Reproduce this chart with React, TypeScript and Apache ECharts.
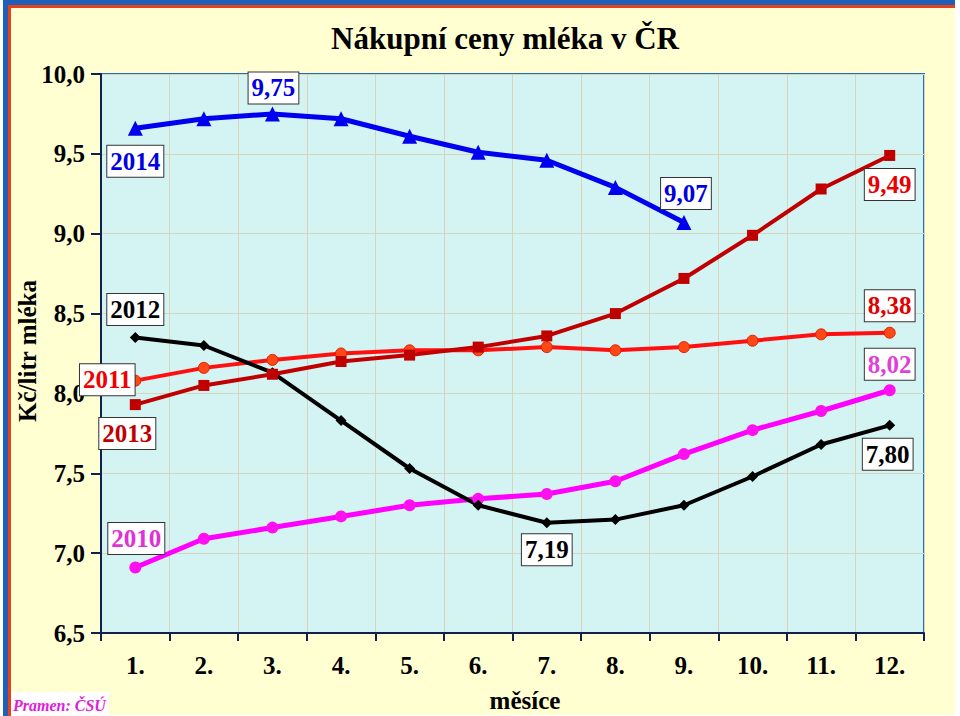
import React, { useEffect, useRef } from "react";
import * as echarts from "echarts";

const months = ["1.", "2.", "3.", "4.", "5.", "6.", "7.", "8.", "9.", "10.", "11.", "12."];
const yTicks = [6.5, 10];
const y2010 = [6.91, 7.09, 7.16, 7.23, 7.30, 7.34, 7.37, 7.45, 7.62, 7.77, 7.89, 8.02];
const y2011 = [8.08, 8.16, 8.21, 8.25, 8.27, 8.27, 8.29, 8.27, 8.29, 8.33, 8.37, 8.38];
const y2012 = [8.35, 8.30, 8.13, 7.83, 7.53, 7.30, 7.19, 7.21, 7.30, 7.48, 7.68, 7.80];
const y2013 = [7.93, 8.05, 8.12, 8.20, 8.24, 8.29, 8.36, 8.50, 8.72, 8.99, 9.28, 9.49];
const y2014 = [9.66, 9.72, 9.75, 9.72, 9.61, 9.51, 9.46, 9.29, 9.07];

const FONT = "'Liberation Serif', 'Times New Roman', serif";

function fmt(v: number) {
  return v.toFixed(2).replace(".", ",");
}

function boxLabel(text: string, color: string, offset: [number, number]) {
  return {
    show: true,
    position: "inside",
    offset,
    formatter: text,
    color,
    fontFamily: FONT,
    fontWeight: "bold",
    fontSize: 25,
    backgroundColor: "#ffffff",
    borderColor: "#333333",
    borderWidth: 1,
    padding: [4, 3, 2, 3],
    align: "center",
    verticalAlign: "middle",
  };
}

function withLabels(values: number[], labels: Record<number, any>) {
  return values.map((v, i) => (labels[i] ? { value: v, label: labels[i] } : v));
}

export default function App() {
  const ref = useRef<HTMLDivElement>(null);
  useEffect(() => {
    document.body.style.margin = "0";
    const chart = echarts.init(ref.current!, null, { renderer: "svg" });
    chart.setOption({
      animation: false,
      backgroundColor: "#ffffff",
      graphic: [
        { type: "rect", z: -10, shape: { x: 11, y: 8, width: 944, height: 707 }, style: { fill: "#FFFFD2" } },
        { type: "rect", z: -9, shape: { x: 3, y: 0, width: 5, height: 716 }, style: { fill: "#1F5FB8" } },
        { type: "rect", z: -9, shape: { x: 8, y: 5, width: 3, height: 711 }, style: { fill: "#E8401C" } },
        { type: "rect", z: -9, shape: { x: 3, y: 0, width: 952, height: 5 }, style: { fill: "#1F5FB8" } },
        { type: "rect", z: -9, shape: { x: 8, y: 5, width: 947, height: 3 }, style: { fill: "#E8401C" } },
        {
          type: "text", x: 505, y: 38,
          style: { text: "Nákupní ceny mléka v ČR", fill: "#000", font: `bold 31px ${FONT}`, align: "center", verticalAlign: "middle" },
        },
        {
          type: "text", x: 27, y: 351, rotation: Math.PI / 2,
          style: { text: "Kč/litr mléka", fill: "#000", font: `bold 25px ${FONT}`, align: "center", verticalAlign: "middle" },
        },
        {
          type: "text", x: 525, y: 700,
          style: { text: "měsíce", fill: "#000", font: `bold 25px ${FONT}`, align: "center", verticalAlign: "middle" },
        },
        { type: "rect", shape: { x: 11, y: 692, width: 98, height: 24 }, style: { fill: "#ffffff" } },
        {
          type: "text", x: 13, y: 705,
          style: { text: "Pramen: ČSÚ", fill: "#E020D8", font: `italic bold 16px ${FONT}`, align: "left", verticalAlign: "middle" },
        },
      ],
      grid: {
        left: 101, top: 74, right: 36, bottom: 83,
        show: true, backgroundColor: "#D4F4F4", borderColor: "#1F6FC8", borderWidth: 2,
      },
      xAxis: {
        type: "category",
        data: months,
        boundaryGap: true,
        axisLine: { lineStyle: { color: "#102050", width: 2 } },
        axisTick: { show: true, length: 8, lineStyle: { color: "#102050", width: 2 } },
        axisLabel: { color: "#000", fontFamily: FONT, fontWeight: "bold", fontSize: 25, margin: 20 },
        splitLine: { show: true, lineStyle: { color: "#D8D4BC", width: 1 } },
      },
      yAxis: {
        type: "value",
        min: yTicks[0],
        max: yTicks[1],
        interval: 0.5,
        axisLine: { show: true, lineStyle: { color: "#102050", width: 2 } },
        axisTick: { show: true, length: 10, lineStyle: { color: "#102050", width: 2 } },
        axisLabel: {
          color: "#000", fontFamily: FONT, fontWeight: "bold", fontSize: 25, margin: 16,
          formatter: (v: number) => v.toFixed(1).replace(".", ","),
        },
        splitLine: { show: true, lineStyle: { color: "#D8D4BC", width: 1 } },
      },
      series: [
        {
          name: "2010", type: "line", data: withLabels(y2010, {
            0: boxLabel("2010", "#E030D8", [1, -29]),
            11: boxLabel(fmt(y2010[11]), "#E040D8", [0, -26]),
          }),
          symbol: "circle", symbolSize: 12,
          lineStyle: { color: "#FF00FF", width: 5 }, itemStyle: { color: "#FF10F0" },
        },
        {
          name: "2011", type: "line", data: withLabels(y2011, {
            0: boxLabel("2011", "#F00000", [-28, -1]),
            11: boxLabel(fmt(y2011[11]), "#E00000", [0, -27]),
          }),
          symbol: "circle", symbolSize: 11,
          lineStyle: { color: "#FF1010", width: 4 }, itemStyle: { color: "#FF4818", borderColor: "#E02000", borderWidth: 1 },
        },
        {
          name: "2012", type: "line", data: withLabels(y2012, {
            0: boxLabel("2012", "#000000", [0, -28]),
            6: boxLabel(fmt(y2012[6]), "#000000", [0, 27]),
            11: boxLabel(fmt(y2012[11]), "#000000", [-2, 29]),
          }),
          symbol: "diamond", symbolSize: 11,
          lineStyle: { color: "#000000", width: 4 }, itemStyle: { color: "#000000" },
        },
        {
          name: "2013", type: "line", data: withLabels(y2013, {
            0: boxLabel("2013", "#C00000", [-8, 29]),
            11: boxLabel(fmt(y2013[11]), "#E80000", [0, 29]),
          }),
          symbol: "rect", symbolSize: 11,
          lineStyle: { color: "#C00000", width: 4 }, itemStyle: { color: "#C00000" },
        },
        {
          name: "2014", type: "line", data: withLabels(y2014, {
            0: boxLabel("2014", "#0000E0", [0, 33]),
            2: boxLabel(fmt(y2014[2]), "#0000E0", [1, -26]),
            8: boxLabel(fmt(y2014[8]), "#0000E0", [2, -29]),
          }),
          symbol: "triangle", symbolSize: 15,
          lineStyle: { color: "#0000F0", width: 5 }, itemStyle: { color: "#0000F0" },
        },
      ],
    });
    return () => chart.dispose();
  }, []);
  return <div ref={ref} style={{ width: 960, height: 716 }} />;
}
